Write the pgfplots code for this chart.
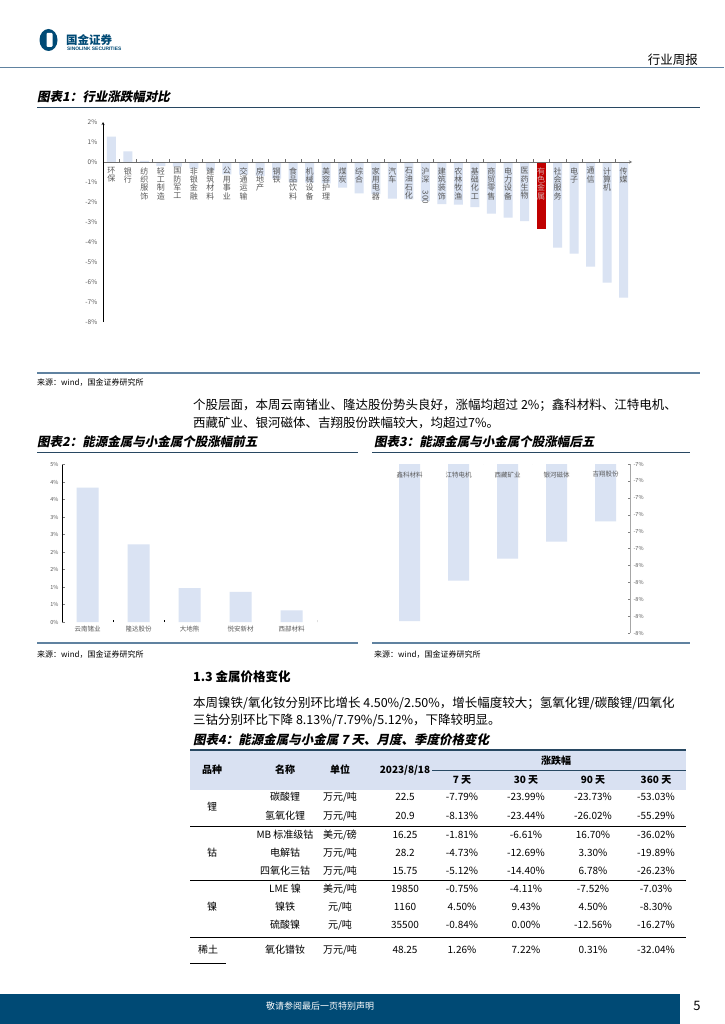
\documentclass[border=0pt]{standalone}
\usepackage{fontspec}
\setmainfont{Noto Sans CJK SC}
\newfontfamily\titlefont{Noto Sans CJK SC}[FakeSlant=0.2]
\newfontfamily\latinsans{Liberation Sans}
\usepackage{pgfplots}
\pgfplotsset{compat=1.18}

\definecolor{barblue}{RGB}{218,227,243}
\definecolor{barred}{RGB}{192,0,0}
\definecolor{navy}{RGB}{0,74,117}
\definecolor{rulebl}{RGB}{96,130,160}
\definecolor{ruledk}{RGB}{40,72,98}
\definecolor{labgray}{RGB}{89,89,89}
\definecolor{lightlab}{RGB}{215,170,170}
\definecolor{axgray}{RGB}{110,110,110}
\definecolor{headbg}{RGB}{217,225,242}

\newcommand{\fs}[1]{\fontsize{#1pt}{#1pt}\selectfont}
\newcommand{\txt}[3]{\node[anchor=west,inner sep=0pt] at (#1pt,-#2pt) {#3};}
\newcommand{\ctr}[3]{\node[inner sep=0pt] at (#1pt,-#2pt) {#3};}
\newcommand{\lt}[1]{\textcolor{lightlab}{#1}}
% one table row: y, name, unit, price, 7d, 30d, 90d, 360d
\newcommand{\trow}[8]{%
  \ctr{285}{#1}{#2}\ctr{340}{#1}{#3}\ctr{405}{#1}{#4}%
  \ctr{462}{#1}{#5}\ctr{526}{#1}{#6}\ctr{593}{#1}{#7}\ctr{656}{#1}{#8}}

\pgfplotsset{
  every axis/.append style={scale only axis, axis on top, axis line style={-},
    every inner x axis line/.append style={-}, every outer x axis line/.append style={-},
    every inner y axis line/.append style={-}, every outer y axis line/.append style={-},
    hide obscured x ticks=false, hide obscured y ticks=false},
}

\begin{document}
\begin{tikzpicture}
\path[use as bounding box, fill=white] (0pt,0pt) rectangle (724pt,-1024pt);

% ---------- page header
\fill[navy] (48.5pt,-40pt) ellipse [x radius=9pt, y radius=11pt];
\fill[white, rounded corners=1pt] (46.5pt,-33pt) rectangle (52.5pt,-47pt);
\node[anchor=west, inner sep=0pt, text=navy, font=\fs{11.5}\bfseries] at (66pt,-40pt) {国金证券};
\node[anchor=west, inner sep=0pt, text=navy, font=\latinsans\bfseries\fs{4.9}] at (67pt,-49pt) {SINOLINK SECURITIES};
\node[anchor=east, inner sep=0pt, font=\fs{12.5}] at (698pt,-60pt) {行业周报};
\draw[rulebl, line width=1.5pt] (0pt,-67.5pt) -- (724pt,-67.5pt);

% ---------- titles
\begin{scope}[font=\titlefont\bfseries\fs{12.5}]
\txt{37}{97}{图表1：行业涨跌幅对比}
\txt{37}{442}{图表2：能源金属与小金属个股涨幅前五}
\txt{374}{442}{图表3：能源金属与小金属个股涨幅后五}
\txt{193}{740}{图表4：能源金属与小金属 7 天、月度、季度价格变化}
\end{scope}
\draw[ruledk, line width=1pt] (37pt,-107.5pt) -- (700pt,-107.5pt);

% ---------- chart 1
\begin{axis}[
  at={(103pt,-322pt)}, anchor=south west,
  width=529pt, height=200pt,
  xmin=0, xmax=32, ymin=-8, ymax=2,
  axis x line=middle, axis y line=left,
  x axis line style={draw=axgray},
  xtick={0.5,1.5,...,31.5},
  xtick style={draw=none}, ytick style={draw=none},
  xticklabels={{环\\保},{银\\行},{纺\\织\\服\\饰},{轻\\工\\制\\造},{国\\防\\军\\工},{非\\银\\金\\融},{建\\筑\\材\\料},{公\\用\\事\\业},{交\\通\\运\\输},{房\\地\\产},{钢\\铁},{食\\品\\饮\\料},{机\\械\\设\\备},{美\\容\\护\\理},{煤\\炭},{综\\合},{家\\用\\电\\器},{汽\\车},{石\\油\\石\\化},{沪\\深\\\rotatebox{-90}{300}},{建\\筑\\装\\饰},{农\\林\\牧\\渔},{基\\础\\化\\工},{商\\贸\\零\\售},{电\\力\\设\\备},{医\\药\\生\\物},{\lt{有}\\\lt{色}\\\lt{金}\\\lt{属}},{社\\会\\服\\务},{电\\子},{通\\信},{计\\算\\机},{传\\媒}},
  xticklabel style={font=\fontsize{8}{8.4}\selectfont, text=labgray, align=center, anchor=north, inner sep=1pt, yshift=-2pt},
  ytick={-8,...,2},
  yticklabels={-8\%,-7\%,-6\%,-5\%,-4\%,-3\%,-2\%,-1\%,0\%,1\%,2\%},
  yticklabel style={font=\fs{6.5}, text=labgray},
]
\addplot[ybar, bar width=9pt, bar shift=0pt, fill=barblue, draw=none] coordinates {
 (0.5,1.27) (1.5,0.53) (2.5,0.06) (3.5,-0.20) (4.5,-0.23) (5.5,-0.32) (6.5,-0.42) (7.5,-0.62)
 (8.5,-0.63) (9.5,-0.70) (10.5,-0.83) (11.5,-1.00) (12.5,-1.03) (13.5,-1.07) (14.5,-1.28) (15.5,-1.57)
 (16.5,-1.60) (17.5,-1.83) (18.5,-1.87) (19.5,-1.95) (20.5,-2.10) (21.5,-2.13) (22.5,-2.25) (23.5,-2.58)
 (24.5,-2.78) (25.5,-2.95) (27.5,-4.28) (28.5,-4.58) (29.5,-5.23) (30.5,-6.03) (31.5,-6.78)};
\addplot[ybar, bar width=9pt, bar shift=0pt, fill=barred, draw=none] coordinates {(26.5,-3.33)};
\pgfplotsinvokeforeach{1,...,31}{\draw[axgray] (axis cs:#1,0) -- ++(0pt,3pt);}
\end{axis}

\draw[rulebl, line width=2pt] (37pt,-373pt) -- (700pt,-373pt);
\begin{scope}[font=\fs{8}]
\txt{37}{383}{来源：wind，国金证券研究所}
\txt{37}{655}{来源：wind，国金证券研究所}
\txt{374}{655}{来源：wind，国金证券研究所}
\end{scope}

% ---------- paragraphs
\begin{scope}[font=\fs{12.5}]
\txt{193}{405}{个股层面，本周云南锗业、隆达股份势头良好，涨幅均超过 2\%；鑫科材料、江特电机、}
\txt{193}{423}{西藏矿业、银河磁体、吉翔股份跌幅较大，均超过7\%。}
\txt{193}{703}{本周镍铁/氧化钕分别环比增长 4.50\%/2.50\%，增长幅度较大；氢氧化锂/碳酸锂/四氧化}
\txt{193}{720}{三钴分别环比下降 8.13\%/7.79\%/5.12\%，下降较明显。}
\end{scope}
\node[anchor=west, inner sep=0pt, font=\fs{12.5}\bfseries] at (193pt,-677pt) {1.3 金属价格变化};

\draw[ruledk, line width=1pt] (37pt,-452.5pt) -- (358pt,-452.5pt);
\draw[ruledk, line width=1pt] (372pt,-452.5pt) -- (690pt,-452.5pt);
\draw[rulebl, line width=2pt] (37pt,-643pt) -- (358pt,-643pt);
\draw[rulebl, line width=2pt] (372pt,-643pt) -- (690pt,-643pt);

% ---------- chart 2
\begin{axis}[
  at={(62pt,-622pt)}, anchor=south west,
  width=255pt, height=157.5pt,
  xmin=0, xmax=5, ymin=0, ymax=4.5,
  axis x line*=bottom, axis y line*=left,
  x axis line style={draw=none},
  xtick={0.5,1.5,...,4.5}, xtick style={draw=none},
  xticklabels={云南锗业,隆达股份,大地熊,悦安新材,西部材料},
  xticklabel style={font=\fs{6.5}, text=labgray},
  ytick={0,0.5,...,4.5},
  yticklabels={0\%,1\%,1\%,2\%,2\%,3\%,3\%,4\%,4\%,5\%},
  yticklabel style={font=\fs{5.5}, text=labgray},
  tick align=inside, major tick length=2.5pt,
]
\addplot[ybar, bar width=22pt, bar shift=0pt, fill=barblue, draw=none] coordinates {
 (0.5,3.84) (1.5,2.22) (2.5,0.97) (3.5,0.86) (4.5,0.33)};
\pgfplotsinvokeforeach{1,2,5}{\draw (axis cs:#1,0) -- ++(0pt,2.5pt);}
\end{axis}

% ---------- chart 3
\begin{axis}[
  at={(630pt,-464pt)}, anchor=north east,
  width=245pt, height=169pt,
  xmin=0, xmax=5, ymin=-8, ymax=-7,
  axis x line*=top, axis y line*=right,
  x axis line style={draw=none}, y axis line style={draw=gray!70},
  xtick={0.5,1.5,...,4.5}, xtick style={draw=none},
  xticklabels={鑫科材料,江特电机,西藏矿业,银河磁体,吉翔股份},
  xticklabel style={font=\fs{6.5}, text=labgray, anchor=north, yshift=-4pt},
  ytick={-8,-7.9,-7.8,-7.7,-7.6,-7.5,-7.4,-7.3,-7.2,-7.1,-7},
  yticklabels={-8\%,-8\%,-8\%,-8\%,-8\%,-7\%,-7\%,-7\%,-7\%,-7\%,-7\%},
  yticklabel style={font=\fs{5.5}, text=labgray},
  tick align=inside, major tick length=2.5pt,
]
\addplot[ybar, bar width=21pt, bar shift=0pt, fill=barblue, draw=none] coordinates {
 (0.5,-7.93) (1.5,-7.69) (2.5,-7.56) (3.5,-7.46) (4.5,-7.34)};
\pgfplotsinvokeforeach{2,3}{\draw (axis cs:#1,-7) -- ++(0pt,2.5pt);}
\end{axis}

% ---------- table
\fill[headbg] (190pt,-751pt) rectangle (686pt,-790pt);
\draw[ruledk, line width=1.2pt] (190pt,-750pt) -- (686pt,-750pt);
\draw[ruledk, line width=0.8pt] (432pt,-770pt) -- (686pt,-770pt);
\begin{scope}[font=\fs{10}\bfseries]
\ctr{212}{770}{品种}\ctr{285}{770}{名称}\ctr{340}{770}{单位}\ctr{405}{770}{2023/8/18}
\ctr{556}{761}{涨跌幅}
\ctr{462}{780}{7 天}\ctr{526}{780}{30 天}\ctr{593}{780}{90 天}\ctr{656}{780}{360 天}
\end{scope}
\begin{scope}[font=\fs{10}]
\trow{797}{碳酸锂}{万元/吨}{22.5}{-7.79\%}{-23.99\%}{-23.73\%}{-53.03\%}
\trow{816}{氢氧化锂}{万元/吨}{20.9}{-8.13\%}{-23.44\%}{-26.02\%}{-55.29\%}
\trow{835}{MB 标准级钴}{美元/磅}{16.25}{-1.81\%}{-6.61\%}{16.70\%}{-36.02\%}
\trow{853}{电解钴}{万元/吨}{28.2}{-4.73\%}{-12.69\%}{3.30\%}{-19.89\%}
\trow{871}{四氧化三钴}{万元/吨}{15.75}{-5.12\%}{-14.40\%}{6.78\%}{-26.23\%}
\trow{889}{LME 镍}{美元/吨}{19850}{-0.75\%}{-4.11\%}{-7.52\%}{-7.03\%}
\trow{907}{镍铁}{元/吨}{1160}{4.50\%}{9.43\%}{4.50\%}{-8.30\%}
\trow{925}{硫酸镍}{元/吨}{35500}{-0.84\%}{0.00\%}{-12.56\%}{-16.27\%}
\trow{950}{氧化镨钕}{万元/吨}{48.25}{1.26\%}{7.22\%}{0.31\%}{-32.04\%}
\ctr{212}{807}{锂}\ctr{212}{853}{钴}\ctr{212}{907}{镍}\ctr{208}{950}{稀土}
\end{scope}
\draw[black, line width=0.7pt] (190pt,-826pt) -- (686pt,-826pt);
\draw[black, line width=0.7pt] (190pt,-880pt) -- (686pt,-880pt);
\draw[black, line width=0.7pt] (190pt,-937pt) -- (686pt,-937pt);
\draw[black, line width=0.7pt] (190pt,-963pt) -- (226pt,-963pt);

% ---------- footer
\fill[navy] (0pt,-994pt) rectangle (680pt,-1024pt);
\node[inner sep=0pt, text=white, font=\fs{9}] at (320pt,-1006pt) {敬请参阅最后一页特别声明};
\node[inner sep=0pt, font=\fs{13}] at (697pt,-1006pt) {5};
\end{tikzpicture}
\end{document}
